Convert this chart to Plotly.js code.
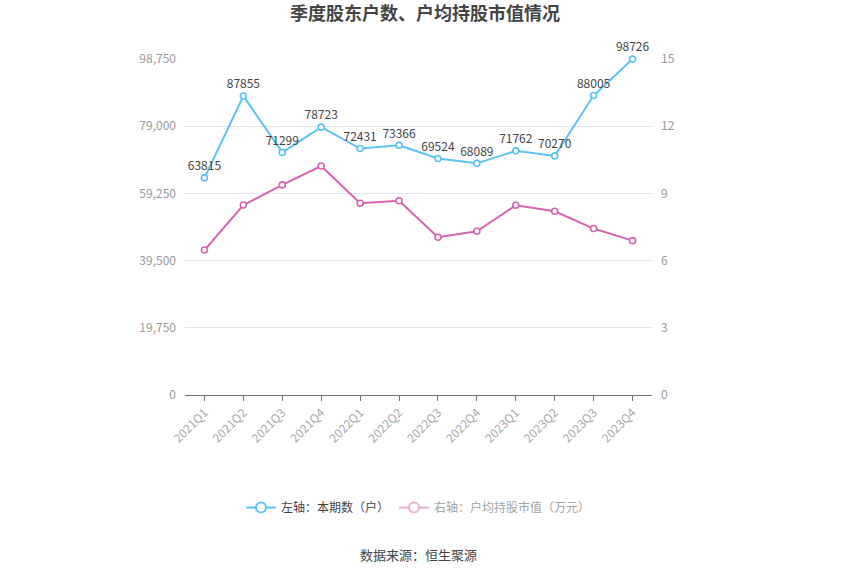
<!DOCTYPE html>
<html>
<head>
<meta charset="utf-8">
<script src="https://cdn.plot.ly/plotly-3.0.1.min.js"></script>
<style>body{margin:0;padding:0;background:#fff;} #chart{width:850px;height:575px;}</style>
</head>
<body>
<div id="chart"></div>
<script>
var quarters = ["2021Q1","2021Q2","2021Q3","2021Q4","2022Q1","2022Q2","2022Q3","2022Q4","2023Q1","2023Q2","2023Q3","2023Q4"];
var holders = [63815, 87855, 71299, 78723, 72431, 73366, 69524, 68089, 71762, 70270, 88005, 98726];
var avgValue = [6.47, 8.48, 9.38, 10.22, 8.56, 8.67, 7.04, 7.31, 8.47, 8.20, 7.43, 6.89];
var leftTicks = [0, 19750, 39500, 59250, 79000, 98750];
var rightTicks = [0, 3, 6, 9, 12, 15];
var seriesNames = ["左轴：本期数（户）", "右轴：户均持股市值（万元）"];

var blue = "#5bc2f6";
var pink = "#d663b0";
var font = "Noto Sans CJK SC, Noto Sans, sans-serif";

var traces = [
  {
    x: quarters, y: holders, type: "scatter", mode: "lines+markers+text",
    text: holders.map(String), textposition: "top center",
    textfont: {size: 12, color: "#444", family: font},
    line: {color: blue, width: 2},
    marker: {symbol: "circle", size: 6, color: "#fff", line: {color: blue, width: 1.6}},
    yaxis: "y", showlegend: false, hoverinfo: "x+y", cliponaxis: false
  },
  {
    x: quarters, y: avgValue, type: "scatter", mode: "lines+markers",
    line: {color: pink, width: 2},
    marker: {symbol: "circle", size: 6, color: "#fff", line: {color: pink, width: 1.6}},
    yaxis: "y2", showlegend: false, hoverinfo: "x+y", cliponaxis: false
  },
  {
    x: [null], y: [null], type: "scatter", mode: "lines+markers", name: seriesNames[0],
    line: {color: blue, width: 2},
    marker: {symbol: "circle", size: 10, color: "#fff", line: {color: blue, width: 2}},
    yaxis: "y", showlegend: true
  },
  {
    x: [null], y: [null], type: "scatter", mode: "lines+markers", name: seriesNames[1],
    line: {color: pink, width: 2},
    marker: {symbol: "circle", size: 10, color: "#fff", line: {color: pink, width: 2}},
    yaxis: "y2", showlegend: true, visible: "legendonly"
  }
];

var layout = {
  width: 850, height: 575,
  margin: {l: 185, r: 198, t: 59, b: 180},
  paper_bgcolor: "#fff", plot_bgcolor: "#fff",
  separators: ".,",
  font: {family: font, size: 12, color: "#999"},
  title: {text: "<b>季度股东户数、户均持股市值情况</b>", x: 0.5, xanchor: "center", y: 0.976, yanchor: "middle",
          font: {size: 18, color: "#444", family: font}},
  xaxis: {
    type: "category", categoryorder: "array", categoryarray: quarters,
    range: [-0.5, quarters.length - 0.5],
    showgrid: false, zeroline: false,
    showline: true, linecolor: "#6e7079", linewidth: 1,
    ticks: "outside", ticklen: 5, tickcolor: "#6e7079",
    tickangle: -45, tickfont: {size: 12, color: "#aaa", family: font}
  },
  yaxis: {
    range: [0, 98750], tickvals: leftTicks, ticktext: leftTicks.map(function(v){return v.toLocaleString("en-US");}),
    showgrid: true, gridcolor: "#e0e6f1", gridwidth: 1, zeroline: false, showline: false,
    ticks: "", ticklabelstandoff: 8, tickfont: {size: 12, color: "#999", family: font}
  },
  yaxis2: {
    overlaying: "y", side: "right", range: [0, 15], tickvals: rightTicks,
    showgrid: false, zeroline: false, showline: false,
    ticks: "", ticklabelstandoff: 8, tickfont: {size: 12, color: "#999", family: font}
  },
  legend: {
    orientation: "h", x: 0.5, xanchor: "center", y: -0.335, yanchor: "middle",
    font: {size: 12, color: "#444", family: font}, itemclick: false, itemdoubleclick: false,
    itemwidth: 30
  },
  annotations: [{
    text: "数据来源：恒生聚源", xref: "paper", yref: "paper", x: 0.5, y: -0.475,
    xanchor: "center", yanchor: "middle", showarrow: false,
    font: {size: 13, color: "#444", family: font}
  }],
  showlegend: true
};

Plotly.newPlot("chart", traces, layout, {displayModeBar: false, staticPlot: false});
</script>
</body>
</html>
